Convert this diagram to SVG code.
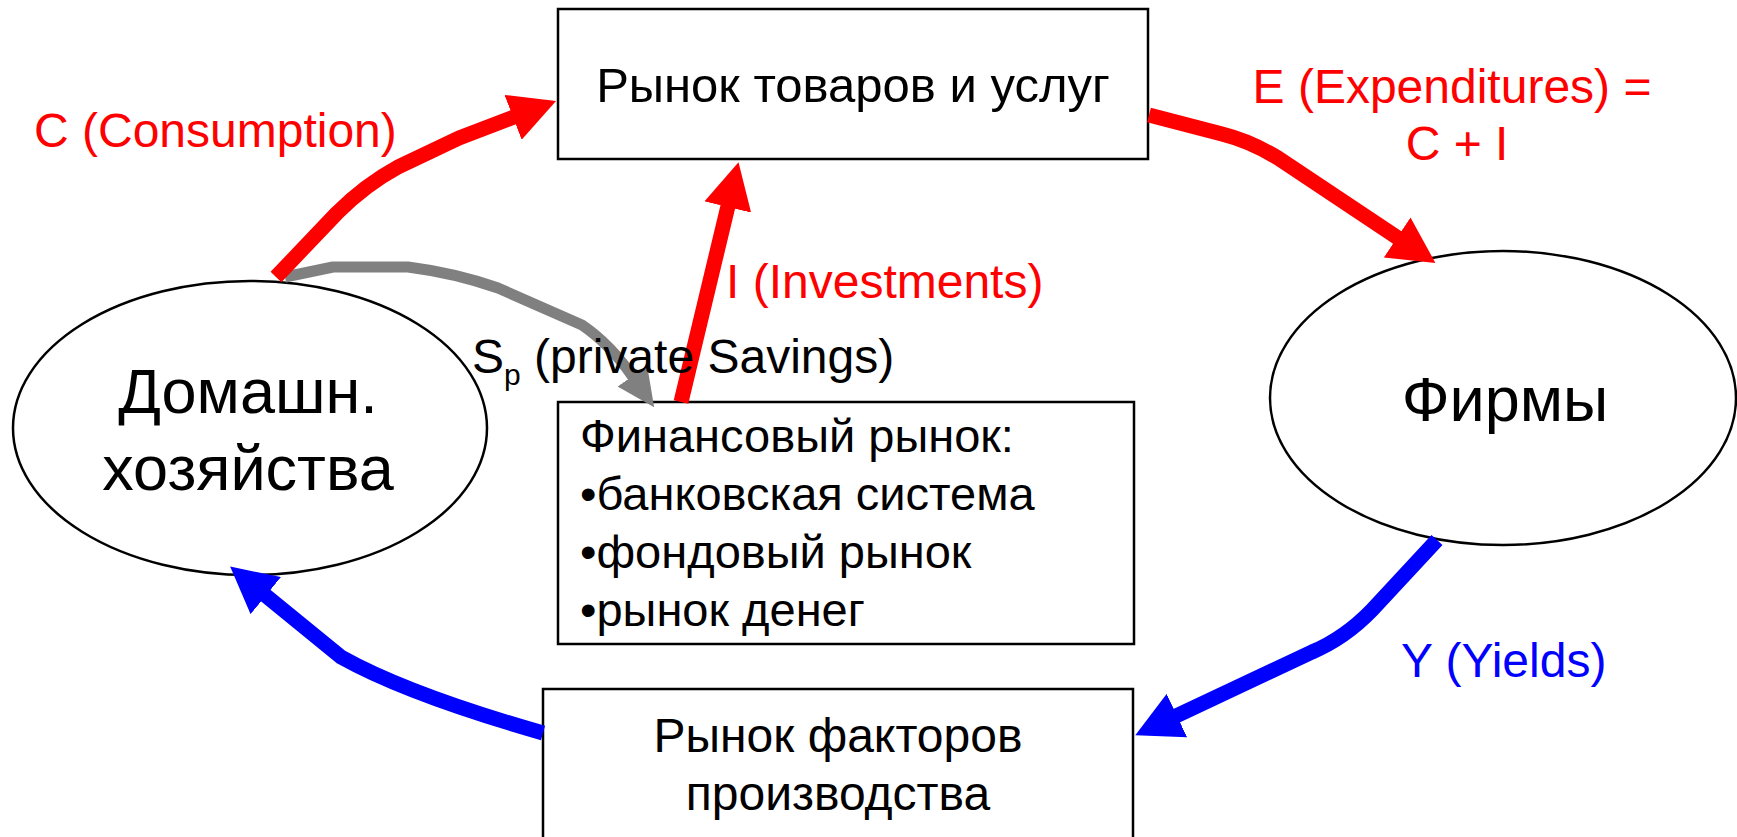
<svg xmlns="http://www.w3.org/2000/svg" width="1737" height="837" viewBox="0 0 1737 837">
<style>
.box{fill:#fff;stroke:#000;stroke-width:2.5}
.node-t{font-family:"Liberation Sans",Arial,sans-serif;fill:#000}
.lbl{font-family:"Liberation Sans",Arial,sans-serif;font-size:48px}
.red{fill:none;stroke:#f00;stroke-width:15;stroke-linecap:butt;stroke-linejoin:round}
.blue{fill:none;stroke:#00f;stroke-width:15;stroke-linecap:butt;stroke-linejoin:round}
.gray{fill:none;stroke:#808080;stroke-width:11;stroke-linecap:butt;stroke-linejoin:round}
</style>
<defs>
<marker id="ahR" markerUnits="userSpaceOnUse" markerWidth="46" markerHeight="48" refX="1" refY="24" orient="auto" viewBox="0 0 46 48"><path d="M0,0 L46,24 L0,48 z" fill="#f00"/></marker>
<marker id="ahB" markerUnits="userSpaceOnUse" markerWidth="46" markerHeight="48" refX="1" refY="24" orient="auto" viewBox="0 0 46 48"><path d="M0,0 L46,24 L0,48 z" fill="#00f"/></marker>
<marker id="ahG" markerUnits="userSpaceOnUse" markerWidth="38" markerHeight="36" refX="1" refY="18" orient="auto" viewBox="0 0 38 36"><path d="M0,0 L38,18 L0,36 z" fill="#808080"/></marker>
</defs>
<rect width="1737" height="837" fill="#fff"/>

<g id="goods-market">
<rect class="box" x="558" y="9" width="590" height="150"/>
<text class="node-t" x="853" y="102" font-size="49" text-anchor="middle">Рынок товаров и услуг</text>
</g>

<g id="households">
<ellipse class="box" cx="250" cy="428" rx="237" ry="147"/>
<text class="node-t" x="248" y="413" font-size="63" text-anchor="middle">Домашн.</text>
<text class="node-t" x="248" y="490" font-size="63" text-anchor="middle">хозяйства</text>
</g>

<g id="firms">
<ellipse class="box" cx="1503" cy="398" rx="233" ry="147"/>
<text class="node-t" x="1505" y="421" font-size="63" text-anchor="middle">Фирмы</text>
</g>

<g id="financial-market">
<rect class="box" x="558" y="402" width="576" height="242"/>
<text class="node-t" font-size="47">
<tspan x="580" y="452">Финансовый рынок:</tspan>
<tspan x="580" y="510">•банковская система</tspan>
<tspan x="580" y="568">•фондовый рынок</tspan>
<tspan x="580" y="626">•рынок денег</tspan>
</text>
</g>

<g id="factor-market">
<rect class="box" x="543" y="689" width="590" height="170"/>
<text class="node-t" x="838" y="752" font-size="48" text-anchor="middle">Рынок факторов</text>
<text class="node-t" x="838" y="810" font-size="48" text-anchor="middle">производства</text>
</g>

<g id="connectors">
<path class="gray" d="M285,277 L333,267 L408,267 Q455,273 498,288 L582,325 Q610,344 633,377" marker-end="url(#ahG)"/>
<path class="red" d="M276,277 L337,213 Q365,185 398,167 L459,138 L514,117" marker-end="url(#ahR)"/>
<path class="red" d="M681,402 L728,206" marker-end="url(#ahR)"/>
<path class="red" d="M1149,115 L1222,134 Q1250,141 1278,158 L1311,180 L1398,238" marker-end="url(#ahR)"/>
<path class="blue" d="M1437,540 L1372,610 Q1345,638 1312,652 L1176,716" marker-end="url(#ahB)"/>
<path class="blue" d="M543,733 C480,715 400,690 341,657 L265,595" marker-end="url(#ahB)"/>
</g>

<g id="labels">
<text class="lbl" x="34" y="147" fill="#f00">C (Consumption)</text>
<text class="lbl" x="1452" y="103" fill="#f00" text-anchor="middle">E (Expenditures) =</text>
<text class="lbl" x="1457" y="160" fill="#f00" text-anchor="middle">C + I</text>
<text class="lbl" x="726" y="298" fill="#f00">I (Investments)</text>
<text class="lbl" x="472" y="373" fill="#000" font-size="44">S<tspan font-size="30" dy="12">p</tspan><tspan dy="-12"> (private Savings)</tspan></text>
<text class="lbl" x="1401" y="677" fill="#00f">Y (Yields)</text>
</g>
</svg>
